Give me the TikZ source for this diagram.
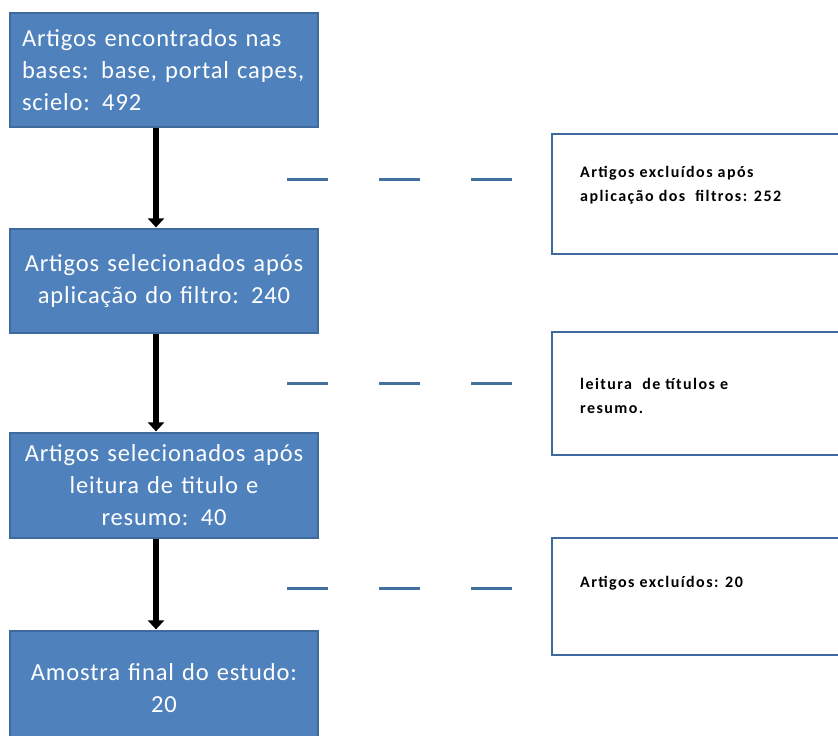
\documentclass[tikz,border=0pt]{standalone}
\usepackage{fontspec}
\setmainfont{Carlito}
\newfontfamily\boxfont[LetterSpace=3.5]{Carlito}
\newfontfamily\sidefont[LetterSpace=9]{Carlito}
\usetikzlibrary{arrows.meta,calc}
\definecolor{boxblue}{HTML}{4F81BD}
\definecolor{boxedge}{HTML}{3F6A9E}
\definecolor{dashblue}{HTML}{44709F}
\begin{document}
\begin{tikzpicture}[x=1pt,y=-1pt,
  bluebox/.style={draw=boxedge, line width=1.2pt, fill=boxblue, text=white,
    font=\boxfont\fontsize{24.5}{32}\selectfont, text width=290pt, inner xsep=9pt, inner ysep=0pt,
    minimum width=308pt, align=center},
  sidebox/.style={draw=boxedge, line width=1.6pt, fill=white, minimum width=310pt, inner sep=0pt},
  sidetext/.style={anchor=west, font=\sidefont\fontsize{16}{24.5}\selectfont\bfseries, align=left, inner sep=0pt},
  flowarrow/.style={line width=6pt, black, -{Triangle[width=16pt,length=9pt]}, shorten >=1pt},
  dashline/.style={dashblue, line width=3pt, dash pattern=on 41pt off 51pt}
]
\useasboundingbox (0,0) rectangle (838,736);
\fill[white] (0,0) rectangle (838,736);

% main column
\node[bluebox, minimum height=114pt, align=left, text width=284pt, inner xsep=12pt] (b1) at (164,70)
  {Artigos encontrados nas\\bases: base, portal capes,\\scielo: 492};
\node[bluebox, minimum height=104pt] (b2) at (164,281)
  {Artigos selecionados após\\aplicação do filtro: 240};
\node[bluebox, minimum height=105pt] (b3) at (164,485.5)
  {Artigos selecionados após\\leitura de titulo e\\resumo: 40};
\node[bluebox, minimum height=114pt] (b4) at (164,688)
  {Amostra final do estudo:\\20};

% arrows
\coordinate (ax) at (156,0);
\draw[flowarrow] (b1.south -| ax) -- (b2.north -| ax);
\draw[flowarrow] (b2.south -| ax) -- (b3.north -| ax);
\draw[flowarrow] (b3.south -| ax) -- (b4.north -| ax);

% side boxes
\node[sidebox, minimum height=120pt] (s1) at (707,194) {};
\node[sidebox, minimum height=123pt] (s2) at (707,393.5) {};
\node[sidebox, minimum height=117pt] (s3) at (707,596.5) {};

\node[sidetext] (t1) at (580,185) {Artigos excluídos após\\aplicação dos\ \ filtros: 252};
\node[sidetext] (t2) at (580,396) {leitura\ \ de títulos e\\resumo.};
\node[sidetext] (t3) at (580,583) {Artigos excluídos: 20};

% dashed links
\coordinate (d1a) at (287,179); \coordinate (d1b) at (512,179);
\coordinate (d2a) at (287,383); \coordinate (d2b) at (512,383);
\coordinate (d3a) at (287,588); \coordinate (d3b) at (512,588);
\draw[dashline] (d1a) -- (d1b);
\draw[dashline] (d2a) -- (d2b);
\draw[dashline] (d3a) -- (d3b);
\end{tikzpicture}
\end{document}
